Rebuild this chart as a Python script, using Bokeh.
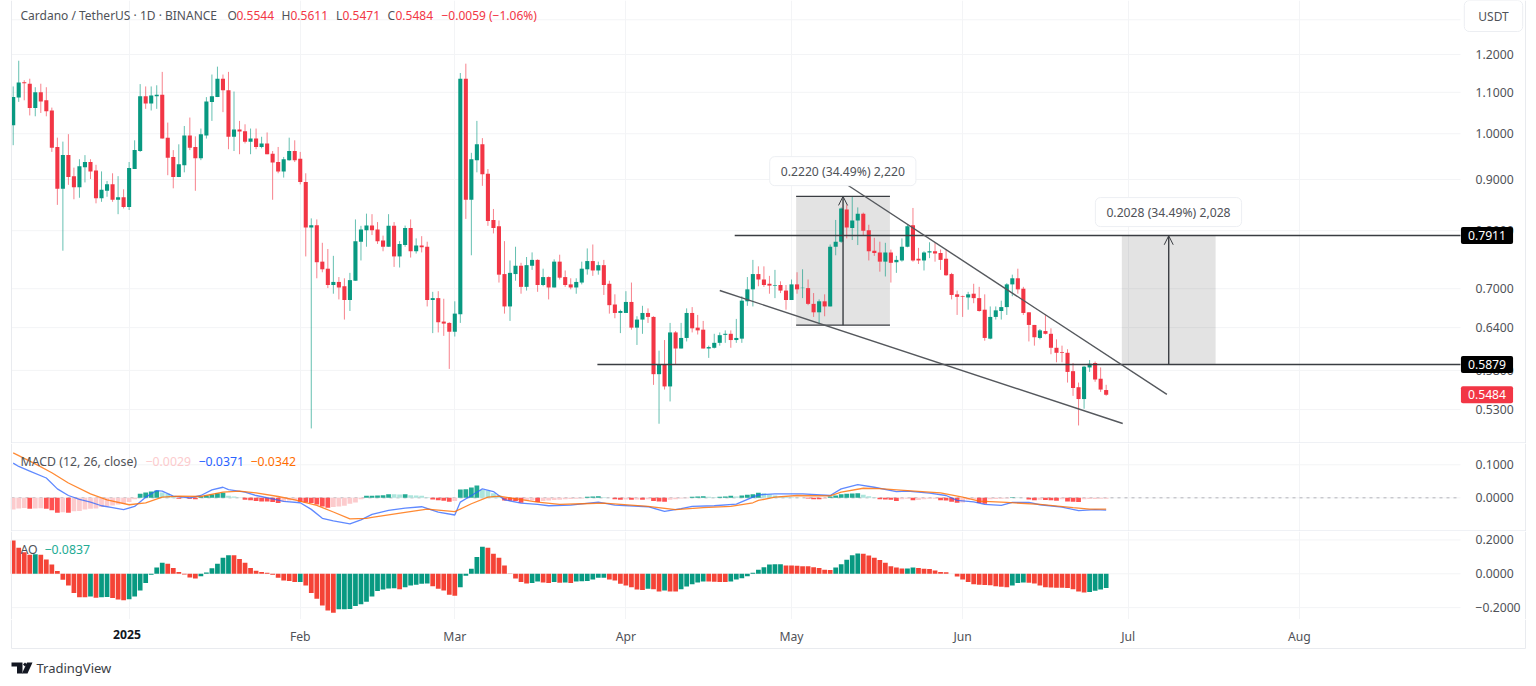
import pandas as pd
from bokeh.embed import file_html
from bokeh.layouts import column
from bokeh.models import (Arrow, BoxAnnotation, ColumnDataSource, FixedTicker, Label,
                          NumeralTickFormatter, OpenHead, PolyAnnotation, Range1d)
from bokeh.plotting import figure
from bokeh.resources import INLINE

FIRST_DAY = "2024-12-11"

opens = [1.020,1.087,1.126,1.122,1.061,1.100,1.080,1.055,.970,.881,
 .952,.907,.884,.926,.937,.919,.862,.877,.890,.859,
 .864,.845,.922,.961,1.090,1.072,1.090,1.094,.991,.948,
 .905,.930,.996,.970,.945,.996,1.076,1.088,1.135,1.105,
 .993,1.010,1.006,.982,.989,.970,.978,.955,.937,.917,
 .941,.961,.944,.895,.806,.810,.745,.733,.706,.711,
 .704,.682,.713,.780,.801,.8095,.802,.782,.771,.809,
 .754,.774,.805,.763,.773,.771,.682,.685,.649,.647,
 .634,.660,1.135,.859,.941,.976,.912,.820,.808,.724,
 .672,.724,.738,.703,.738,.748,.706,.719,.702,.745,
 .719,.707,.702,.710,.732,.746,.730,.739,.708,.675,
 .662,.662,.679,.640,.652,.662,.656,.575,.588,.559,
 .633,.610,.625,.662,.640,.637,.610,.611,.618,.6295,
 .631,.622,.624,.680,.699,.724,.715,.708,.705,.706,
 .697,.682,.707,.701,.701,.676,.663,.680,.672,.771,
 .780,.840,.805,.819,.832,.801,.764,.761,.745,.761,
 .744,.747,.771,.810,.750,.747,.761,.763,.760,.750,
 .724,.691,.688,.686,.692,.685,.667,.624,.656,.665,
 .671,.707,.717,.700,.663,.644,.625,.635,.631,.611,
 .605,.604,.579,.558,.543,.584,.590,.569,.5544]

closes = [1.088,1.125,1.123,1.061,1.100,1.077,1.053,.968,.881,.952,
 .905,.884,.928,.937,.917,.862,.879,.890,.859,.864,
 .845,.924,.963,1.090,1.072,1.092,1.094,.989,.946,.905,
 .932,.996,.968,.945,.999,1.077,1.090,1.135,1.105,.993,
 1.010,1.005,.982,.989,.970,.978,.954,.936,.917,.943,
 .961,.941,.895,.806,.810,.744,.732,.706,.711,.702,
 .682,.714,.781,.802,.8095,.801,.781,.771,.809,.754,
 .776,.805,.763,.773,.770,.682,.685,.648,.646,.634,
 .661,1.135,.859,.943,.976,.911,.818,.805,.723,.672,
 .726,.738,.703,.739,.748,.706,.719,.702,.745,.718,
 .706,.702,.711,.733,.746,.730,.739,.706,.674,.662,
 .665,.679,.640,.652,.662,.656,.575,.588,.559,.633,
 .610,.625,.662,.639,.636,.610,.612,.618,.629,.631,
 .622,.625,.681,.699,.724,.715,.706,.705,.706,.697,
 .682,.707,.699,.7015,.676,.663,.680,.672,.771,.780,
 .842,.806,.819,.832,.800,.763,.760,.745,.761,.743,
 .748,.771,.808,.747,.747,.761,.763,.759,.748,.722,
 .690,.687,.687,.691,.685,.665,.625,.656,.666,.671,
 .707,.717,.699,.662,.644,.626,.636,.631,.611,.604,
 .604,.578,.557,.543,.585,.589,.568,.555,.5484]

highs = [1.115,1.183,1.131,1.135,1.113,1.122,1.113,1.062,.991,.982,
 .999,.925,.943,.952,.943,.931,.917,.897,.913,.907,
 .880,.937,.985,1.121,1.115,1.115,1.118,1.153,1.026,.963,
 .976,1.018,1.038,.994,1.012,1.088,1.146,1.167,1.146,1.153,
 1.102,1.030,1.022,1.012,1.012,.993,1.003,.961,.970,.948,
 .991,.985,.959,.913,.823,.821,.778,.767,.755,.719,
 .717,.726,.821,.809,.832,.831,.816,.791,.831,.816,
 .781,.8095,.821,.786,.790,.780,.695,.696,.684,.648,
 .680,1.150,1.175,.957,1.030,.990,.922,.841,.819,.781,
 .747,.771,.743,.753,.761,.749,.733,.720,.749,.757,
 .730,.717,.717,.745,.768,.775,.745,.748,.713,.691,
 .667,.696,.710,.657,.673,.669,.657,.607,.622,.647,
 .635,.647,.669,.671,.659,.650,.614,.631,.633,.636,
 .636,.653,.688,.719,.748,.737,.737,.721,.731,.712,
 .706,.715,.727,.732,.715,.693,.683,.691,.775,.820,
 .844,.849,.865,.844,.834,.811,.787,.780,.778,.766,
 .755,.786,.811,.843,.769,.763,.779,.778,.766,.767,
 .726,.697,.689,.695,.708,.703,.691,.672,.672,.681,
 .709,.723,.733,.703,.663,.644,.638,.659,.639,.623,
 .614,.609,.590,.564,.586,.594,.592,.584,.5611]

lows = [.974,1.076,1.080,1.043,1.041,1.049,1.041,.959,.849,.764,
 .889,.860,.863,.894,.901,.852,.855,.865,.855,.831,
 .842,.839,.922,.959,1.059,1.055,1.059,.989,.909,.882,
 .905,.915,.963,.877,.941,.989,1.030,1.088,1.051,.965,
 .961,.954,.978,.954,.965,.967,.954,.859,.913,.904,
 .940,.937,.890,.754,.5075,.717,.727,.701,.692,.683,
 .652,.665,.713,.747,.771,.792,.776,.763,.771,.736,
 .735,.771,.752,.759,.761,.672,.632,.633,.628,.582,
 .627,.647,.822,.756,.915,.887,.809,.795,.710,.661,
 .650,.713,.692,.697,.731,.695,.704,.683,.702,.715,
 .703,.699,.692,.707,.723,.721,.723,.690,.661,.654,
 .632,.662,.637,.615,.631,.647,.561,.513,.555,.540,
 .588,.610,.620,.633,.630,.610,.597,.610,.614,.618,
 .611,.618,.618,.673,.672,.704,.703,.692,.685,.693,
 .667,.682,.692,.685,.674,.656,.645,.657,.672,.756,
 .778,.786,.783,.774,.791,.747,.755,.728,.720,.710,
 .726,.745,.770,.745,.741,.730,.751,.745,.731,.721,
 .683,.659,.656,.667,.677,.664,.621,.623,.652,.652,
 .659,.688,.692,.659,.620,.614,.623,.630,.602,.591,
 .591,.564,.547,.511,.531,.578,.565,.552,.5471]

macd_hist = [-.035,-.032,-.031,-.033,-.032,-.0315,-.033,-.038,-.045,-.044,
 -.0455,-.041,-.040,-.035,-.033,-.032,-.028,-.026,-.023,-.020,
 -.018,-.013,-.004,.012,.016,.019,.022,.016,.012,.004,
 -.003,-.001,-.003,-.004,.004,.007,.010,.014,.015,.006,
 .004,.001,-.006,-.007,-.010,-.011,-.0115,-.013,-.016,-.012,
 -.008,-.007,-.012,-.014,-.016,-.020,-.026,-.030,-.028,-.026,
 -.024,-.018,-.014,-.004,.006,.0065,.007,.0075,.011,.0105,
 .0100,.011,.008,.007,.006,.002,-.005,-.007,-.009,-.012,
 -.010,.025,.026,.031,.037,.024,.022,.014,.007,-.008,
 -.009,-.010,-.015,-.008,-.0075,-.013,-.010,-.008,-.0065,-.006,
 -.004,-.0035,-.003,-.002,.003,.004,.0045,.002,.0005,-.004,
 -.006,-.005,-.0055,-.005,-.006,-.004,-.010,-.011,-.012,-.006,
 -.004,-.002,-.001,.003,.004,.005,.003,.002,.003,.004,
 .006,.004,.007,.009,.011,.015,.014,.010,.007,.004,
 .003,.002,.001,.0005,-.002,-.004,-.0045,-.003,.004,.007,
 .011,.012,.013,.0135,.009,.005,.002,-.004,-.005,-.006,
 -.010,-.004,-.003,-.007,-.0068,-.004,-.003,-.0028,-.007,-.008,
 -.012,-.015,-.014,-.006,-.004,-.016,-.018,-.004,-.0038,-.003,
 -.002,.002,.001,.0005,-.005,-.007,-.006,-.0065,-.0075,-.009,
 -.004,-.011,-.012,-.0125,-.004,-.0035,-.0033,-.0031,-.0029]

macd_days = [0,1,3,6,8,10,12,14,16,18,20,22,24,26,27,29,32,34,36,38,39,42,44,47,49,52,54,56,58,61,63,65,
 68,71,74,77,80,81,83,85,87,89,92,95,97,101,106,109,115,118,121,123,127,131,134,135,138,143,148,150,153,156,
 160,162,166,169,171,174,176,179,181,184,186,190,193,196,198]
macd_line = [.105,.095,.081,.060,.027,.007,-.005,-.013,-.024,-.030,-.036,-.026,.002,.022,.020,.005,0,.007,.024,.032,.025,.017,.007,-.003,-.011,-.015,-.035,-.062,-.070,-.079,-.067,-.050,
 -.038,-.031,-.027,-.043,-.052,-.013,.007,.027,.019,-.006,-.016,-.020,-.024,-.022,-.013,-.022,-.027,-.041,-.033,-.026,-.024,-.019,.002,.009,.012,.012,.007,.027,.040,.032,
 .019,.020,.014,.007,-.008,-.012,-.020,-.023,-.014,-.014,-.021,-.028,-.039,-.036,-.0371]

signal_days = [0,4,7,10,14,17,21,24,27,30,34,38,41,44,48,51,55,58,61,64,65,71,75,80,83,86,88,90,95,99,103,107,115,120,125,130,134,
 135,138,142,148,150,154,157,162,168,172,175,180,186,192,195,198]
signal_line = [.136,.103,.076,.045,.012,-.006,-.021,-.015,.002,.005,.004,.017,.020,.015,.004,-.006,-.023,-.043,-.064,-.062,-.059,-.044,-.034,-.042,-.018,.002,.005,0,-.013,-.020,-.018,-.016,-.026,-.036,-.030,-.026,-.015,
 -.008,.002,.007,.006,.017,.029,.028,.022,.015,.002,-.010,-.014,-.020,-.030,-.034,-.0342]

ao_values = [.197,.154,.128,.112,.115,.112,.085,.055,.016,-.035,
 -.069,-.114,-.138,-.139,-.134,-.142,-.138,-.137,-.143,-.152,
 -.156,-.150,-.134,-.098,-.055,-.006,.037,.065,.059,.035,
 .010,-.004,-.022,-.028,-.014,.008,.033,.059,.095,.110,
 .109,.087,.065,.035,.018,.010,.006,-.006,-.024,-.040,
 -.043,-.049,-.048,-.069,-.114,-.148,-.187,-.217,-.230,-.210,
 -.209,-.208,-.190,-.180,-.165,-.134,-.102,-.093,-.087,-.086,
 -.091,-.079,-.069,-.065,-.059,-.058,-.073,-.089,-.098,-.124,
 -.130,-.079,-.012,.030,.099,.160,.154,.118,.095,.049,
 .002,-.028,-.049,-.057,-.055,-.045,-.051,-.055,-.049,-.053,
 -.052,-.055,-.045,-.044,-.043,-.033,-.024,-.023,-.033,-.040,
 -.059,-.069,-.079,-.093,-.095,-.089,-.091,-.104,-.098,-.104,
 -.105,-.091,-.075,-.061,-.051,-.045,-.046,-.047,-.048,-.049,
 -.045,-.033,-.026,-.014,.006,.024,.039,.055,.056,.057,
 .049,.0488,.048,.045,.044,.039,.035,.024,.023,.037,
 .057,.083,.110,.120,.119,.108,.095,.081,.065,.045,
 .037,.031,.032,.037,.035,.030,.029,.020,.010,.009,
 .000,-.016,-.033,-.049,-.061,-.065,-.066,-.067,-.073,-.077,
 -.079,-.069,-.055,-.051,-.053,-.057,-.069,-.079,-.081,-.082,
 -.083,-.084,-.091,-.104,-.110,-.108,-.100,-.093,-.0837]

price_ticks = [1.3, 1.2, 1.1, 1.0, .9, .8, .7, .64, .58, .53]
macd_ticks = [.1, 0]
ao_ticks = [.2, 0, -.2]
month_ticks = ["2025-01-01","2025-02-01","2025-03-01","2025-04-01","2025-05-01","2025-06-01","2025-07-01","2025-08-01"]
month_labels = ["2025","Feb","Mar","Apr","May","Jun","Jul","Aug"]

level_top = .7911
level_bottom = .5879
last_close = .5484
level_top_start = "2025-04-20 17:00"
level_bottom_start = "2025-03-26 20:00"

measure_one = dict(left="2025-05-01 20:00", right="2025-05-18 20:00", mid="2025-05-10 08:00", bottom=.6437, top=.8657,
                   text="0.2220 (34.49%) 2,220", label_x="2025-05-10 07:00", label_y=.9175)
measure_two = dict(left="2025-06-29 20:00", right="2025-07-16 20:00", mid="2025-07-08 08:00", bottom=.5879, top=.7907,
                   text="0.2028 (34.49%) 2,028", label_x="2025-07-08 07:00", label_y=.835)

upper_trend_days = ["2025-05-11", "2025-07-08"]
upper_trend_prices = [.8897, .5488]
lower_trend_days = ["2025-04-18", "2025-06-30"]
lower_trend_prices = [.6971, .5133]

FONT = "Noto Sans"
GREEN = "#089981"
RED = "#F23645"
TEXT = "#4f5258"
GRID = "#f3f4f6"
EDGE = "#e9ebef"
DAY = 86400000
PX = DAY / 5.52   # one pixel of the time scale
W = 1530
AXIS_FONT = "12.2px"
LEGEND_FONT = "12.3px"


def ms(d):
    return pd.Timestamp(d).timestamp() * 1000


x_start = ms(FIRST_DAY) - 12.7 * PX
x_end = x_start + W * PX
x_left = x_start + 11 * PX
x_axis = x_start + 1460 * PX
x_range = Range1d(x_start, x_end)
days = pd.date_range(FIRST_DAY, periods=len(opens))
day_ms = [d.timestamp() * 1000 for d in days]
month_ms = [ms(m) for m in month_ticks]


def pane(height, y_range, y_ticks, **kw):
    f = figure(width=W, height=height, x_range=x_range, y_range=y_range, output_backend="svg",
               toolbar_location=None, y_axis_location="right", min_border=0, outline_line_color=None,
               background_fill_color="white", border_fill_color="white", **kw)
    f.xaxis.visible = False
    f.xgrid.grid_line_color = GRID
    f.xgrid.ticker = FixedTicker(ticks=month_ms)
    f.ygrid.visible = False
    f.segment([x_left] * len(y_ticks), y_ticks, [x_axis] * len(y_ticks), y_ticks, line_color=GRID, line_width=1)
    ax = f.yaxis[0]
    ax.fixed_location = x_axis
    ax.ticker = FixedTicker(ticks=y_ticks)
    ax.formatter = NumeralTickFormatter(format="0.0000")
    ax.axis_line_color = None
    ax.major_tick_line_color = None
    ax.minor_tick_line_color = None
    ax.major_label_standoff = 9
    ax.major_label_text_font = FONT
    ax.major_label_text_font_size = AXIS_FONT
    ax.major_label_text_color = TEXT
    return f


def text(f, content, x, y, bottom, color=TEXT, size=LEGEND_FONT, **kw):
    lab = Label(x=x, y=bottom - y, x_units="screen", y_units="screen", text=content, text_color=color,
                text_font=FONT, text_font_size=size, text_baseline="middle", **kw)
    f.add_layout(lab)
    return lab


def rule(f, left, right, top, bottom, color=EDGE):
    f.add_layout(BoxAnnotation(left=left, right=right, top=top, bottom=bottom, left_units="canvas",
                               right_units="canvas", top_units="canvas", bottom_units="canvas",
                               fill_color=color, fill_alpha=1, line_color=None, level="overlay"))


# ---------- price pane
main = pane(443, Range1d(.4902, 1.3589), price_ticks, y_axis_type="log")
main.yaxis[0].major_label_overrides = {1.3: ""}

for m in (measure_one, measure_two):
    main.quad(left=[ms(m["left"])], right=[ms(m["right"])], bottom=[m["bottom"]], top=[m["top"]],
              fill_color="#000000", fill_alpha=.11, line_color=None)

candle = ColumnDataSource(dict(
    x=day_ms, o=opens, h=highs, l=lows, c=closes,
    top=[max(a, b) for a, b in zip(opens, closes)],
    bottom=[min(a, b) for a, b in zip(opens, closes)],
    color=[GREEN if c >= o else RED for o, c in zip(opens, closes)],
))
main.segment("x", "h", "x", "l", source=candle, line_color="color", line_width=1, line_alpha=.62)
main.vbar("x", top="top", bottom="bottom", width=.74 * DAY, source=candle, fill_color="color", line_color=None)

LINE = "#3a3d42"
main.segment([ms(level_top_start), ms(level_bottom_start)], [level_top, level_bottom],
             [x_axis, x_axis], [level_top, level_bottom], line_color=LINE, line_width=1.4)
for m in (measure_one,):
    main.segment([ms(m["left"])] * 2, [m["top"], m["bottom"]], [ms(m["right"])] * 2, [m["top"], m["bottom"]],
                 line_color=LINE, line_width=1.4)
main.line([ms(d) for d in upper_trend_days], upper_trend_prices, line_color="#55585d", line_width=1.4)
main.line([ms(d) for d in lower_trend_days], lower_trend_prices, line_color="#55585d", line_width=1.4)

for m in (measure_one, measure_two):
    main.add_layout(Arrow(end=OpenHead(size=9, line_color=LINE, line_width=1), line_color=LINE, line_width=1.4,
                          x_start=ms(m["mid"]), y_start=m["bottom"], x_end=ms(m["mid"]), y_end=m["top"]))
    main.add_layout(Label(x=ms(m["label_x"]), y=m["label_y"], text=m["text"], text_align="center",
                          text_baseline="middle", text_font=FONT, text_font_size="12.2px", text_color=TEXT,
                          background_fill_color="white", border_line_color="#edeff3", border_line_width=1,
                          padding=dict(x=11, y=6), border_radius=5))

BOTTOM_MAIN = 443
text(main, "Cardano / TetherUS · 1D · BINANCE", 20, 14.5, BOTTOM_MAIN, size="12px")
for content, x, color in [("O", 227, TEXT), ("0.5544", 236, RED), ("H", 281, TEXT), ("0.5611", 290, RED),
                          ("L", 335.5, TEXT), ("0.5471", 342, RED), ("C", 387, TEXT), ("0.5484", 395, RED),
                          ("−0.0059 (−1.06%)", 441, RED)]:
    text(main, content, x, 14.5, BOTTOM_MAIN, color=color, size="12px")

text(main, "USDT", 1493, 15.5, BOTTOM_MAIN, text_align="center", background_fill_color="white",
     border_line_color="#eceef2", padding=dict(x=14, y=7), border_radius=5, size="12px")

for price, bg in [(level_top, "#000000"), (level_bottom, "#000000"), (last_close, RED)]:
    main.add_layout(Label(x=1486.5, y=price, x_units="screen", y_units="data", text=f"{price:.4f}",
                          text_align="center", text_baseline="middle", text_color="white", text_font=FONT,
                          text_font_size=AXIS_FONT, background_fill_color=bg, padding=dict(x=7, y=4), border_radius=2))

rule(main, 10.5, 11.5, 0, 443)
rule(main, 1524.5, 1525.5, 0, 443)
rule(main, 11, 1525, 442, 443, "#e0e3eb")

# ---------- MACD pane
macd = pane(88, Range1d(-.102, .1645), macd_ticks)
macd.line([x_left, x_axis], [0, 0], line_color="#9598a1", line_alpha=.7, line_dash=[3, 4], line_width=1)


def hist_color(i):
    v, prev = macd_hist[i], macd_hist[i - 1] if i else macd_hist[0]
    if v >= 0:
        return "#22AB94" if v >= prev else "#ACE5DC"
    return "#FF5252" if v < prev else "#FCCBCD"


macd.vbar(day_ms, top=macd_hist, bottom=0, width=.86 * DAY, fill_color=[hist_color(i) for i in range(len(macd_hist))],
          line_color=None)
macd.line([day_ms[d] for d in macd_days], macd_line, line_color="#2962FF", line_width=1.3, line_alpha=.75)
macd.line([day_ms[d] for d in signal_days], signal_line, line_color="#FF6D00", line_width=1.3, line_alpha=.8)

BOTTOM_MACD = 531
text(macd, "MACD (12, 26, close)", 20, 461, BOTTOM_MACD)
text(macd, "−0.0029", 145, 461, BOTTOM_MACD, color="#FCCBCD")
text(macd, "−0.0371", 198, 461, BOTTOM_MACD, color="#2962FF")
text(macd, "−0.0342", 250, 461, BOTTOM_MACD, color="#FF6D00")
rule(macd, 10.5, 11.5, 0, 88)
rule(macd, 1524.5, 1525.5, 0, 88)
rule(macd, 11, 1525, 87, 88, "#e0e3eb")

# ---------- AO pane
ao = pane(88, Range1d(-.27, .25), ao_ticks)
ao.yaxis[0].major_label_overrides = {-0.2: "−0.2000"}
ao_colors = ["#F44336" if i and v < ao_values[i - 1] else GREEN for i, v in enumerate(ao_values)]
ao_colors[0] = "#F44336"
ao.vbar(day_ms, top=ao_values, bottom=0, width=.86 * DAY, fill_color=ao_colors, line_color=None)

BOTTOM_AO = 619
text(ao, "AO", 20, 549, BOTTOM_AO)
text(ao, "−0.0837", 44, 549, BOTTOM_AO, color="#22AB94")
rule(ao, 10.5, 11.5, 0, 88)
rule(ao, 1524.5, 1525.5, 0, 88)

# ---------- time axis and footer
foot = figure(width=W, height=59, x_range=x_range, y_range=Range1d(0, 1), output_backend="svg",
              toolbar_location=None, min_border=0, outline_line_color=None,
              background_fill_color="white", border_fill_color="white")
foot.yaxis.visible = False
foot.grid.visible = False
xa = foot.xaxis[0]
xa.fixed_location = 1
xa.ticker = FixedTicker(ticks=month_ms)
xa.major_label_overrides = {int(v): ("" if lab == "2025" else lab) for v, lab in zip(month_ms, month_labels)}
xa.axis_line_color = None
xa.major_tick_line_color = None
xa.minor_tick_line_color = None
xa.major_tick_out = 0
xa.major_tick_in = 0
xa.minor_tick_out = 0
xa.major_label_standoff = 8
xa.major_label_text_font = FONT
xa.major_label_text_font_size = AXIS_FONT
xa.major_label_text_color = TEXT

BOTTOM_FOOT = 678
foot.add_layout(Label(x=ms(month_ticks[0]) - 0.4 * DAY, y=BOTTOM_FOOT - 634, y_units="screen", text="2025",
                      text_align="center", text_baseline="middle", text_font=FONT, text_font_style="bold",
                      text_font_size=AXIS_FONT, text_color="#131722"))
text(foot, "TradingView", 36, 667.5, BOTTOM_FOOT, color="#3a3d44", size="13px")

for xs, ys in [([11, 22, 22, 16.5, 16.5, 11], [43, 43, 54, 54, 47, 47]),
               ([26.5, 32, 27, 21.5], [43, 43, 54, 54]),
               ([22.5, 24.5, 26.5, 24.5], [45, 43, 45, 47])]:
    foot.add_layout(PolyAnnotation(xs=xs, ys=ys, xs_units="canvas", ys_units="canvas", fill_color="#131722",
                                   fill_alpha=1, line_color=None, level="overlay"))

rule(foot, 10.5, 11.5, 0, 29)
rule(foot, 1524.5, 1525.5, 0, 29)
rule(foot, 11, 1525, 28.5, 29.5)

page = column(main, macd, ao, foot, spacing=0)
open("out.html", "w").write(file_html(page, INLINE))
